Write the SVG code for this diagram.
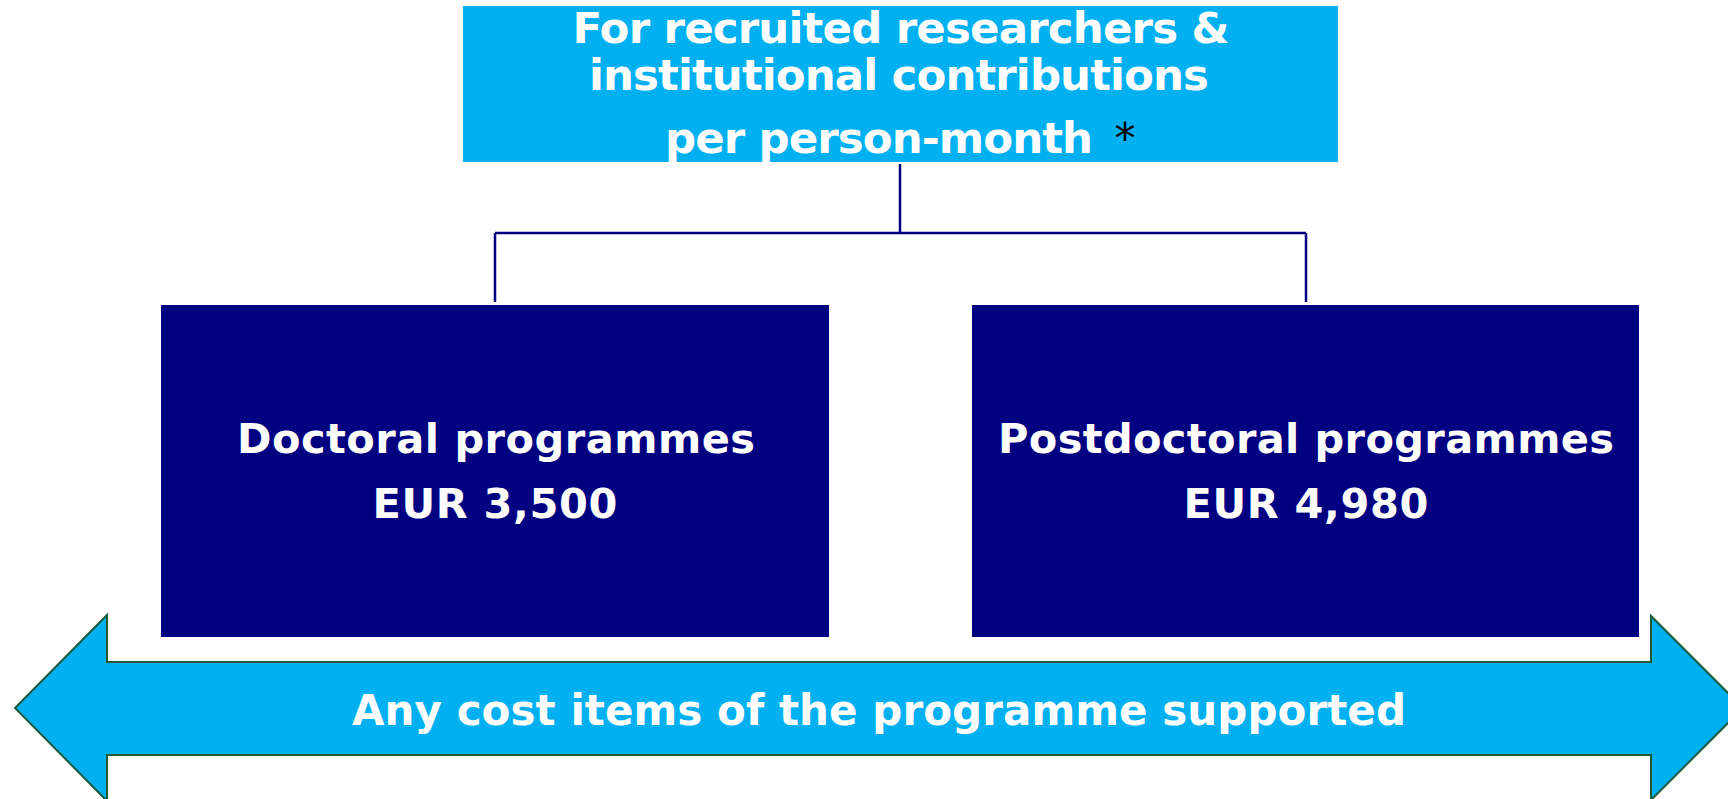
<svg xmlns="http://www.w3.org/2000/svg" width="1728" height="799" viewBox="0 0 1728 799">
  <style>
    .t { font-family: "DejaVu Sans", Verdana, sans-serif; font-weight: bold; fill: #ffffff; text-anchor: middle; }
    .conn { fill: none; stroke: #000080; stroke-width: 2.5; }
  </style>
  <defs>
    <clipPath id="topclip"><rect x="463" y="6" width="875" height="156"/></clipPath>
  </defs>
  <rect width="1728" height="799" fill="#ffffff"/>
  <g id="top-node">
    <rect x="463" y="6" width="875" height="156" fill="#00B0F0"/>
    <g clip-path="url(#topclip)">
      <text class="t" x="901" y="43" font-size="43.5" textLength="657" lengthAdjust="spacing">For recruited researchers &amp;</text>
      <text class="t" x="899" y="90" font-size="43.5" textLength="620" lengthAdjust="spacing">institutional contributions</text>
      <text class="t" x="879" y="153" font-size="43.5" textLength="428" lengthAdjust="spacing">per person-month</text>
      <text x="1125" y="153" font-size="42" font-family="DejaVu Sans, sans-serif" fill="#000000" text-anchor="middle">*</text>
    </g>
  </g>
  <g id="connectors">
    <path class="conn" d="M900,164 V233 M495,233 H1306 M495,233 V302 M1306,233 V302"/>
  </g>
  <g id="doctoral-node">
    <rect x="161" y="305" width="668" height="332" fill="#000080"/>
    <text class="t" x="496" y="453" font-size="41.5" textLength="518" lengthAdjust="spacing">Doctoral programmes</text>
    <text class="t" x="495" y="518" font-size="41.5" textLength="245" lengthAdjust="spacing">EUR 3,500</text>
  </g>
  <g id="postdoctoral-node">
    <rect x="972" y="305" width="667" height="332" fill="#000080"/>
    <text class="t" x="1306" y="453" font-size="41.5" textLength="616" lengthAdjust="spacing">Postdoctoral programmes</text>
    <text class="t" x="1306" y="518" font-size="41.5" textLength="245" lengthAdjust="spacing">EUR 4,980</text>
  </g>
  <g id="cost-arrow">
    <polygon points="15,708 107,615 107,662 1651,662 1651,616 1743,708 1651,800 1651,755 107,755 107,801" fill="#00B0F0" stroke="#1E5A3A" stroke-width="2"/>
    <text class="t" x="879" y="725" font-size="42" textLength="1054" lengthAdjust="spacing">Any cost items of the programme supported</text>
  </g>
</svg>
